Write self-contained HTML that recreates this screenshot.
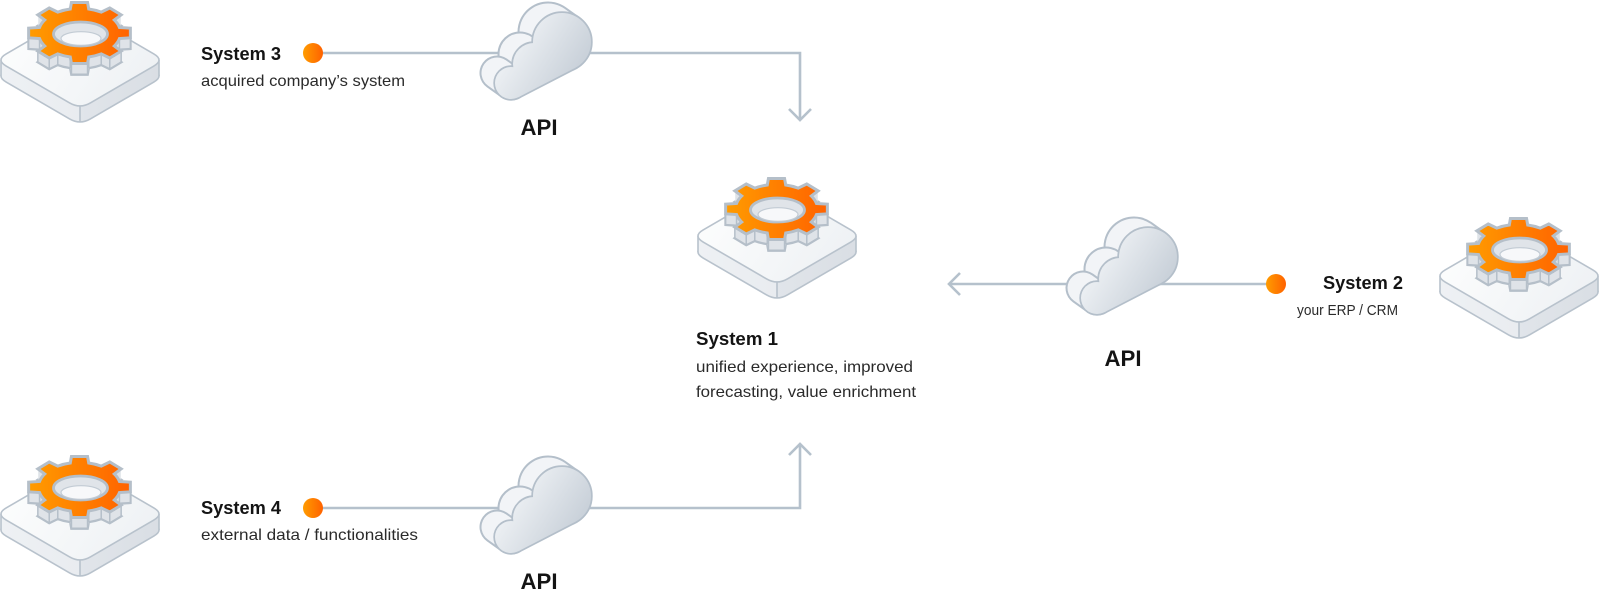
<!DOCTYPE html>
<html>
<head>
<meta charset="utf-8">
<style>
html,body{margin:0;padding:0;background:#ffffff;}
svg{display:block;}
text{font-family:"Liberation Sans",Arial,sans-serif;}
.t{font-size:18px;font-weight:bold;fill:#141414;}
.s{font-size:16px;fill:#2a2a2a;}
.a{font-size:22px;font-weight:bold;fill:#141414;}
</style>
</head>
<body>
<svg width="1600" height="600" viewBox="0 0 1600 600" xmlns="http://www.w3.org/2000/svg">
<defs>
  <linearGradient id="og" x1="0" x2="1" y1="0" y2="0">
    <stop offset="0" stop-color="#ff9c00"/>
    <stop offset="1" stop-color="#ff6200"/>
  </linearGradient>
  <linearGradient id="sideg" gradientUnits="userSpaceOnUse" x1="0" y1="0" x2="160" y2="0">
    <stop offset="0" stop-color="#eef1f4"/>
    <stop offset="0.5" stop-color="#e9ecf0"/>
    <stop offset="0.5" stop-color="#e1e5ea"/>
    <stop offset="1" stop-color="#d9dee4"/>
  </linearGradient>
  <linearGradient id="topg" gradientUnits="userSpaceOnUse" x1="20" y1="20" x2="140" y2="100">
    <stop offset="0" stop-color="#fcfdfd"/>
    <stop offset="1" stop-color="#eef1f4"/>
  </linearGradient>
  <linearGradient id="cg" gradientUnits="userSpaceOnUse" x1="25" y1="40" x2="105" y2="90">
    <stop offset="0" stop-color="#f0f3f6"/>
    <stop offset="1" stop-color="#bfc8d2"/>
  </linearGradient>

  <path id="pf" d="M6.17 66.04L69.63 102.96Q80 109 90.37 102.96L153.83 66.04Q164.2 60 153.83 53.96L90.37 17.04Q80 11 69.63 17.04L6.17 53.96Q-4.2 60 6.17 66.04Z"/>
  <path id="gp" vector-effect="non-scaling-stroke" d="M39.95 -9.23L50.87 -8.05L50.87 8.05L39.95 9.23A41 41 0 0 1 34.77 21.73L41.66 30.27L30.27 41.66L21.73 34.77A41 41 0 0 1 9.23 39.95L8.05 50.87L-8.05 50.87L-9.23 39.95A41 41 0 0 1 -21.73 34.77L-30.27 41.66L-41.66 30.27L-34.77 21.73A41 41 0 0 1 -39.95 9.23L-50.87 8.05L-50.87 -8.05L-39.95 -9.23A41 41 0 0 1 -34.77 -21.73L-41.66 -30.27L-30.27 -41.66L-21.73 -34.77A41 41 0 0 1 -9.23 -39.95L-8.05 -50.87L8.05 -50.87L9.23 -39.95A41 41 0 0 1 21.73 -34.77L30.27 -41.66L41.66 -30.27L34.77 -21.73A41 41 0 0 1 39.95 -9.23Z"/>

  <g id="icon">
    <!-- platform -->
    <use href="#pf" transform="translate(0,16)" fill="url(#sideg)" stroke="#b8c2cc" stroke-width="1.6"/>
    <rect x="1" y="60" width="158" height="16" fill="url(#sideg)"/>
    <path d="M1 60V76M159 60V76M80 106V122" stroke="#b8c2cc" stroke-width="1.6" fill="none"/>
    <use href="#pf" fill="url(#topg)" stroke="#b8c2cc" stroke-width="1.6"/>
    <!-- gear body -->
    <use href="#gp" transform="translate(79.5,44) scale(1,0.6)" fill="#dfe3e8" stroke="#b5bfc9" stroke-width="2.6"/>
    <g fill="#dfe3e8">
      <use href="#gp" transform="translate(79.5,43) scale(1,0.6)"/>
      <use href="#gp" transform="translate(79.5,42) scale(1,0.6)"/>
      <use href="#gp" transform="translate(79.5,41) scale(1,0.6)"/>
      <use href="#gp" transform="translate(79.5,40) scale(1,0.6)"/>
      <use href="#gp" transform="translate(79.5,39) scale(1,0.6)"/>
      <use href="#gp" transform="translate(79.5,38) scale(1,0.6)"/>
      <use href="#gp" transform="translate(79.5,37) scale(1,0.6)"/>
      <use href="#gp" transform="translate(79.5,36) scale(1,0.6)"/>
      <use href="#gp" transform="translate(79.5,35) scale(1,0.6)"/>
      <use href="#gp" transform="translate(79.5,34) scale(1,0.6)"/>
    </g>
    <path fill="none" stroke="#b5bfc9" stroke-width="1.5" d="M130.37 37.83v11M119.45 38.54v11M114.27 46.04v11M121.16 51.16v11M109.77 58v11M101.23 53.86v11M88.73 56.97v11M87.55 63.52v11M71.45 63.52v11M70.27 56.97v11M57.77 53.86v11M49.23 58v11M37.84 51.16v11M44.73 46.04v11M39.55 38.54v11M28.63 37.83v11"/>
    <!-- gear face -->
    <use href="#gp" transform="translate(79.5,33) scale(1,0.6)" fill="url(#og)" stroke="#b5bfc9" stroke-width="3"/>
    <ellipse cx="80.5" cy="34" rx="27" ry="12" fill="#e0e4e9" stroke="#b5bfc9" stroke-width="2.8"/>
    <ellipse cx="81" cy="38.5" rx="20" ry="6.8" fill="#f7f8fa" stroke="#c2cbd4" stroke-width="1.2"/>
  </g>

  <g id="cloud" stroke-linecap="round">
    <line x1="80" y1="40" x2="66" y2="30" stroke="#b4bfca" stroke-width="61"/>
    <line x1="80" y1="40" x2="66" y2="30" stroke="#f2f4f7" stroke-width="57"/>
    <line x1="52" y1="62" x2="38" y2="52" stroke="#b4bfca" stroke-width="45"/>
    <line x1="52" y1="62" x2="38" y2="52" stroke="#f2f4f7" stroke-width="41"/>
    <line x1="29" y1="81" x2="15" y2="71" stroke="#b4bfca" stroke-width="35"/>
    <line x1="29" y1="81" x2="15" y2="71" stroke="#f2f4f7" stroke-width="31"/>
    <g fill="url(#cg)" stroke="#b4bfca" stroke-width="3.4">
      <circle cx="80" cy="40" r="29"/>
      <circle cx="52" cy="62" r="21"/>
      <circle cx="29" cy="81" r="16"/>
      <polygon points="29,81 36.3,95.2 93.3,65.8 80,40 52,62"/>
    </g>
    <g fill="url(#cg)">
      <circle cx="80" cy="40" r="29"/>
      <circle cx="52" cy="62" r="21"/>
      <circle cx="29" cy="81" r="16"/>
      <polygon points="29,81 36.3,95.2 93.3,65.8 80,40 52,62"/>
    </g>
  </g>
</defs>

<!-- connectors -->
<g fill="none" stroke="#b5c1cc" stroke-width="2.6" stroke-linejoin="miter">
  <path d="M313 53H800V119"/>
  <path d="M789 109L800 120L811 109"/>
  <path d="M313 508H800V445"/>
  <path d="M789 455L800 444L811 455"/>
  <path d="M1276 284H949"/>
  <path d="M960 273L949 284L960 295"/>
</g>

<!-- icons -->
<use href="#icon" x="0" y="0"/>
<use href="#icon" x="0" y="454"/>
<use href="#icon" x="697" y="176"/>
<use href="#icon" x="1439" y="216"/>

<!-- clouds -->
<use href="#cloud" x="482" y="2"/>
<use href="#cloud" x="482" y="456"/>
<use href="#cloud" x="1068" y="217"/>

<!-- dots -->
<circle cx="313" cy="53" r="10" fill="url(#og)"/>
<circle cx="313" cy="508" r="10" fill="url(#og)"/>
<circle cx="1276" cy="284" r="10" fill="url(#og)"/>

<!-- labels -->
<text class="t" x="201" y="60" textLength="80" lengthAdjust="spacingAndGlyphs">System 3</text>
<text class="s" x="201" y="86" textLength="204" lengthAdjust="spacingAndGlyphs">acquired company’s system</text>

<text class="t" x="201" y="514" textLength="80" lengthAdjust="spacingAndGlyphs">System 4</text>
<text class="s" x="201" y="540" textLength="217" lengthAdjust="spacingAndGlyphs">external data / functionalities</text>

<text class="t" x="696" y="345" textLength="82" lengthAdjust="spacingAndGlyphs">System 1</text>
<text class="s" x="696" y="372" textLength="217" lengthAdjust="spacingAndGlyphs">unified experience, improved</text>
<text class="s" x="696" y="397" textLength="220" lengthAdjust="spacingAndGlyphs">forecasting, value enrichment</text>

<text class="t" x="1323" y="289" textLength="80" lengthAdjust="spacingAndGlyphs">System 2</text>
<text class="s" x="1297" y="315" style="font-size:15px" textLength="101" lengthAdjust="spacingAndGlyphs">your ERP / CRM</text>

<text class="a" x="539" y="135" text-anchor="middle" textLength="37" lengthAdjust="spacingAndGlyphs">API</text>
<text class="a" x="539" y="589" text-anchor="middle" textLength="37" lengthAdjust="spacingAndGlyphs">API</text>
<text class="a" x="1123" y="366" text-anchor="middle" textLength="37" lengthAdjust="spacingAndGlyphs">API</text>
</svg>
</body>
</html>
